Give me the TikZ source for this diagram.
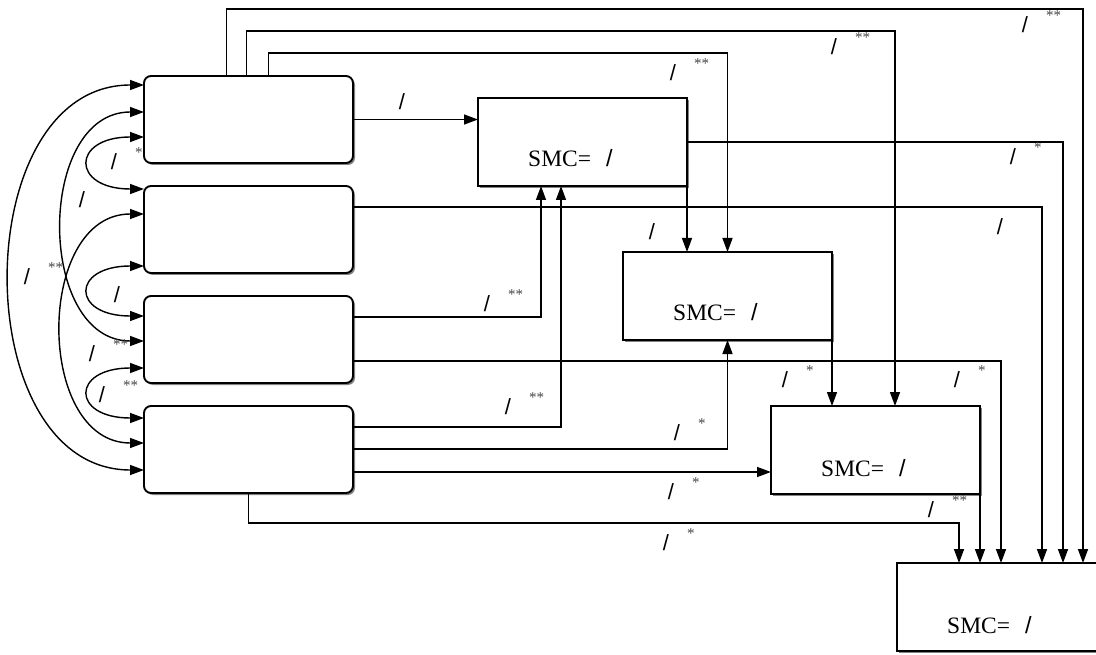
\documentclass[tikz,border=0pt]{standalone}
\usepackage{fontspec}
\setmainfont{Liberation Serif}
\newfontfamily\slashfont{Liberation Sans}
\usetikzlibrary{positioning,arrows.meta,calc,shadows}
\definecolor{ink}{RGB}{0,0,0}
\definecolor{stargray}{RGB}{70,70,70}
\definecolor{shade}{RGB}{100,100,100}
\tikzset{
  var/.style={draw=ink, line width=1.9pt, rounded corners=7pt, fill=white,
              minimum width=209pt, minimum height=87pt, inner sep=0pt, outer sep=0pt,
              drop shadow={shadow xshift=2pt, shadow yshift=-2pt, fill=shade, opacity=0.8}},
  res/.style={draw=ink, line width=1.6pt, fill=white,
              minimum width=209pt, minimum height=88pt, inner sep=0pt, outer sep=0pt,
              drop shadow={shadow xshift=2pt, shadow yshift=-2pt, fill=shade, opacity=0.8}},
  smc/.style={font=\fontsize{23.5}{24}\selectfont, anchor=base west, inner sep=0pt},
  coef/.style={font=\slashfont\fontsize{22}{22}\selectfont, inner sep=0pt},
  sig/.style={font=\fontsize{15}{15}\selectfont, text=stargray, anchor=west, inner sep=0pt},
  arr/.style={-{Triangle[length=14pt,width=10pt]}, line width=1.5pt, draw=ink},
  dbl/.style={{Triangle[length=14pt,width=10pt]}-{Triangle[length=14pt,width=10pt]},
              line width=1.4pt, draw=ink},
}
% slash coefficient with optional significance stars
\newcommand{\pathcoef}[3][]{%
  \node[coef] (#2) at (#3) {/};
  \if\relax\detokenize{#1}\relax\else
    \node[sig] (#2s) at ($(#2)+(21,-9)$) {#1};
  \fi}
\newcommand{\smcval}{SMC=\hspace{15pt}{\slashfont /}}

\begin{document}
\begin{tikzpicture}[x=1pt, y=-1pt]
  \useasboundingbox (0,0) rectangle (1096,655);

  % exogenous variables
  \node[var, anchor=north west] (A) at (144,76) {};
  \node[var, below=23pt of A] (B) {};
  \node[var, below=23pt of B] (C) {};
  \node[var, below=23pt of C] (D) {};

  % endogenous variables
  \node[res, anchor=north west] (M1) at (478,98) {};
  \node[res, anchor=north west] (M2) at (623,252) {};
  \node[res, anchor=north west] (M3) at (771,406) {};
  \node[res, anchor=north west, minimum width=225pt] (M4) at (897,563) {};

  \node[smc] (M1t) at ($(M1.south west)+(50,-19)$) {\smcval};
  \node[smc] (M2t) at ($(M2.south west)+(50,-19)$) {\smcval};
  \node[smc] (M3t) at ($(M3.south west)+(50,-18)$) {\smcval};
  \node[smc] (M4t) at ($(M4.south west)+(50,-18)$) {\smcval};

  % correlations
  \draw[dbl] ($(A.north west)+(0,61)$) .. controls +(-73,0) and +(-73,0) .. ($(B.north west)+(0,3)$);
  \draw[dbl] ($(B.north west)+(0,80)$) .. controls +(-73,0) and +(-73,0) .. ($(C.north west)+(0,20)$);
  \draw[dbl] ($(C.north west)+(0,72)$) .. controls +(-73,0) and +(-73,0) .. ($(D.north west)+(0,12)$);
  \draw[dbl] ($(A.north west)+(0,36)$) .. controls +(-108,0) and +(-108,0) .. ($(C.north west)+(0,45)$);
  \draw[dbl] ($(B.north west)+(0,28)$) .. controls +(-109,0) and +(-109,0) .. ($(D.north west)+(0,37)$);
  \draw[dbl] ($(A.north west)+(0,9)$) .. controls +(-178,0) and +(-178,0) .. ($(D.north west)+(0,64)$);

  % paths from A
  \draw[arr] ($(A.north)+(-22,0)$) -- ++(0,-67) -| ($(M4.north west)+(186,0)$);
  \draw[arr] ($(A.north)+(-2,0)$) -- ++(0,-45) -| ($(M3.north west)+(124,0)$);
  \draw[arr] ($(A.north)+(20,0)$) -- ++(0,-23) -| (M2.north);
  \draw[arr] (A.east) -- (A.east -| M1.west);

  % paths from B and C
  \draw[arr] ($(B.north east)+(0,21)$) -| ($(M4.north west)+(145,0)$);
  \draw[arr] ($(C.north east)+(0,21)$) -| ($(M1.south west)+(63,0)$);
  \draw[arr] ($(C.north east)+(0,65)$) -| ($(M4.north west)+(104,0)$);

  % paths from D
  \coordinate (D3) at ($(D.north east)+(0,66)$);
  \draw[arr] ($(D.north east)+(0,21)$) -| ($(M1.south west)+(83,0)$);
  \draw[arr] ($(D.north east)+(0,43)$) -| (M2.south);
  \draw[arr] (D3) -- (D3 -| M3.west);
  \draw[arr] (D.south) -- ++(0,30) -| ($(M4.north west)+(62,0)$);

  % paths between endogenous variables
  \draw[arr] (M1.east) -| ($(M4.north west)+(166,0)$);
  \draw[arr] (M1.south east) -- (M1.south east |- M2.north);
  \draw[arr] (M2.south east) -- (M2.south east |- M3.north);
  \draw[arr] (M3.south east) -- (M3.south east |- M4.north);

  % coefficients
  \pathcoef[**]{t1}{1025,25}
  \pathcoef[**]{t2}{834,47}
  \pathcoef[**]{t3}{673,73}
  \pathcoef{a1}{402,102}
  \pathcoef[*]{m1}{1013,157}
  \pathcoef{m2}{652,232}
  \pathcoef{b1}{1000,227}
  \pathcoef[**]{c1}{487,304}
  \pathcoef[*]{c2}{957,380}
  \pathcoef[*]{m3}{785,380}
  \pathcoef[**]{d1}{508,407}
  \pathcoef[*]{d2}{677,433}
  \pathcoef[*]{d3}{671,492}
  \pathcoef[*]{d4}{666,543}
  \pathcoef[**]{m4}{931,510}
  \pathcoef[*]{l1}{114,162}
  \pathcoef{l2}{82,200}
  \pathcoef{l3}{117,295}
  \pathcoef[**]{l4}{27,277}
  \pathcoef[**]{l5}{92,354}
  \pathcoef[**]{l6}{102,395}
\end{tikzpicture}
\end{document}
